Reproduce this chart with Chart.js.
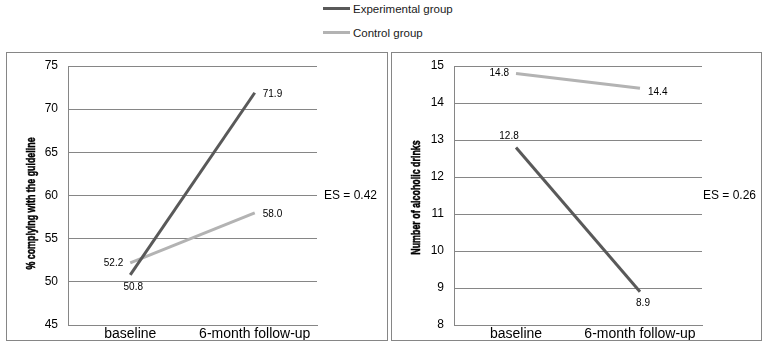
<!DOCTYPE html>
<html>
<head>
<meta charset="utf-8">
<script src="https://cdn.jsdelivr.net/npm/chart.js@4.4.1/dist/chart.umd.min.js"></script>
<style>
  body { margin: 0; background: #fff; width: 768px; height: 347px; position: relative; overflow: hidden;
         font-family: "Liberation Sans", Arial, sans-serif; }
  .panel { position: absolute; top: 52px; height: 287px; border: 1px solid #868686; }
  .panel canvas { display: block; }
  #p1 { left: 6px; width: 380px; }
  #p2 { left: 391px; width: 369px; }
  .legend { position: absolute; left: 323px; font-size: 11.5px; color: #1a1a1a; white-space: nowrap; }
  .legend span { display: inline-block; width: 27px; height: 3px; vertical-align: middle; margin-right: 3px; position: relative; top: -1px; }
</style>
</head>
<body>
<div class="legend" style="top:3px"><span style="background:#595959"></span>Experimental group</div>
<div class="legend" style="top:27px"><span style="background:#b3b3b3"></span>Control group</div>
<div class="panel" id="p1"><canvas id="c1" width="380" height="287"></canvas></div>
<div class="panel" id="p2"><canvas id="c2" width="369" height="287"></canvas></div>
<script>
const categories = ["baseline", "6-month follow-up"];
const seriesNames = ["Experimental group", "Control group"];
const seriesColors = ["#595959", "#b3b3b3"];

// left panel: % complying with the guideline
const complyExperimental = [50.8, 71.9];
const complyControl = [52.2, 58.0];
const complyRange = [45, 75, 5];

// right panel: number of alcoholic drinks
const drinksExperimental = [12.8, 8.9];
const drinksControl = [14.8, 14.4];
const drinksRange = [8, 15, 1];

const effectSizes = ["ES = 0.42", "ES = 0.26"];

const FONT = '"Liberation Sans", Arial, sans-serif';

// value labels, condensed bold axis title and effect size text
const pointLabels = {
  id: "pointLabels",
  afterDatasetsDraw(chart, args, opts) {
    const ctx = chart.ctx;
    const a = chart.chartArea;
    ctx.save();
    ctx.font = "10px " + FONT;
    ctx.fillStyle = "#000";
    chart.data.datasets.forEach((ds, di) => {
      chart.getDatasetMeta(di).data.forEach((pt, i) => {
        const place = opts.places[di][i];
        let x = pt.x, y = pt.y;
        ctx.textBaseline = "middle";
        if (place === "right") { ctx.textAlign = "left"; x += 8; y += 1; }
        else if (place === "rightLow") { ctx.textAlign = "left"; x += 8; y += 4; }
        else if (place === "left") { ctx.textAlign = "right"; x -= 7; }
        else if (place === "below") { ctx.textAlign = "center"; x += 3; y += 12; }
        else if (place === "above") { ctx.textAlign = "center"; x -= 7; y -= 11; }
        ctx.fillText(ds.data[i].toFixed(1), x, y);
      });
    });

    ctx.font = "12px " + FONT;
    ctx.textAlign = "left";
    ctx.textBaseline = "middle";
    ctx.fillText(opts.es, a.right + opts.esGap, (a.top + a.bottom) / 2);

    // axis title, squeezed like the original narrow font
    ctx.save();
    ctx.translate(25, (a.top + a.bottom) / 2 + opts.titleDy);
    ctx.rotate(-Math.PI / 2);
    ctx.scale(0.74, 1);
    ctx.font = "bold 12px " + FONT;
    ctx.textAlign = "center";
    ctx.strokeStyle = "#000";
    ctx.lineWidth = 0.5;
    ctx.fillText(opts.title, 0, 0);
    ctx.strokeText(opts.title, 0, 0);
    ctx.restore();
    ctx.restore();
  }
};

function makeChart(id, exp, ctl, range, title, titleDy, es, esGap, places, rightPad, axisW) {
  return new Chart(document.getElementById(id), {
    type: "line",
    data: {
      labels: categories,
      datasets: [
        { label: seriesNames[0], data: exp, borderColor: seriesColors[0], borderWidth: 3, pointRadius: 0, tension: 0 },
        { label: seriesNames[1], data: ctl, borderColor: seriesColors[1], borderWidth: 3, pointRadius: 0, tension: 0 }
      ]
    },
    options: {
      responsive: false,
      animation: false,
      layout: { padding: { top: 13, right: rightPad, left: 0, bottom: 0 } },
      plugins: {
        legend: { display: false },
        tooltip: { enabled: false },
        pointLabels: { places: places, es: es, esGap: esGap, title: title, titleDy: titleDy }
      },
      scales: {
        x: {
          offset: true,
          grid: { display: false, drawTicks: false },
          border: { display: true, color: "#868686" },
          ticks: { color: "#000", font: { family: FONT, size: 14 }, padding: 1, maxRotation: 0 },
          afterFit(s) { s.height = 15; s.paddingLeft = 0; s.paddingRight = 0; }
        },
        y: {
          min: range[0], max: range[1],
          grid: { color: "#868686", drawTicks: false },
          border: { display: true, color: "#868686" },
          ticks: { stepSize: range[2], color: "#000", font: { family: FONT, size: 12 }, padding: 10 },
          afterFit(s) { s.width = axisW; s.paddingTop = 0; s.paddingBottom = 0; }
        }
      }
    },
    plugins: [pointLabels]
  });
}

makeChart("c1", complyExperimental, complyControl, complyRange,
  "% complying with the guideline", 8, effectSizes[0], 7,
  [["below", "right"], ["left", "right"]], 70, 61);

makeChart("c2", drinksExperimental, drinksControl, drinksRange,
  "Number of alcoholic drinks", 2, effectSizes[1], 1,
  [["above", "below"], ["left", "rightLow"]], 59, 62);
</script>
</body>
</html>
